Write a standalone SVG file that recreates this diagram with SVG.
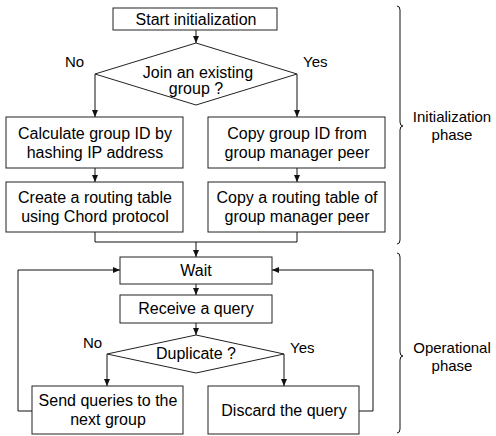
<svg xmlns="http://www.w3.org/2000/svg" width="496" height="436" viewBox="0 0 496 436">
<style>
.box{fill:#fff;stroke:#222;stroke-width:1}
.ln{fill:none;stroke:#111;stroke-width:1}
.t{font-family:"Liberation Sans",Arial,sans-serif;font-size:16px;fill:#000;text-anchor:middle}
.s{font-family:"Liberation Sans",Arial,sans-serif;font-size:15px;fill:#000;text-anchor:middle}
.l{font-family:"Liberation Sans",Arial,sans-serif;font-size:15px;fill:#000}
</style>
<defs>
<marker id="ah" markerUnits="userSpaceOnUse" markerWidth="7" markerHeight="6" refX="7" refY="3" orient="auto">
<path d="M0,0 L7,3 L0,6 z" fill="#111"/>
</marker>
</defs>
<rect width="496" height="436" fill="#fff"/>
<g id="connectors">
<path class="ln" d="M196,30 V43" marker-end="url(#ah)"/>
<path class="ln" d="M95,74 V117" marker-end="url(#ah)"/>
<path class="ln" d="M297,74 V117" marker-end="url(#ah)"/>
<path class="ln" d="M95,168 V182" marker-end="url(#ah)"/>
<path class="ln" d="M297,168 V182" marker-end="url(#ah)"/>
<path class="ln" d="M95,232 V242 H297 V232"/>
<path class="ln" d="M196,242 V257" marker-end="url(#ah)"/>
<path class="ln" d="M196,284 V295" marker-end="url(#ah)"/>
<path class="ln" d="M196,323 V335" marker-end="url(#ah)"/>
<path class="ln" d="M107,354 V386" marker-end="url(#ah)"/>
<path class="ln" d="M284,354 V386" marker-end="url(#ah)"/>
<path class="ln" d="M32,411 H18 V270 H120" marker-end="url(#ah)"/>
<path class="ln" d="M359,411 H373 V270 H272" marker-end="url(#ah)"/>
</g>
<g id="start"><rect class="box" x="113" y="8" width="164" height="22"/><text class="t" x="196" y="25">Start initialization</text></g>
<g id="join"><path class="box" d="M196,43 L297,74 L196,105 L95,74 Z"/><text class="t" x="198" y="78">Join an existing</text><text class="t" x="196" y="94">group ?</text></g>
<g id="no1"><text class="l" x="65" y="67">No</text></g>
<g id="yes1"><text class="l" x="303" y="67">Yes</text></g>
<g id="calc"><rect class="box" x="6" y="117" width="177" height="51"/><text class="t" x="95" y="139">Calculate group ID by</text><text class="t" x="95" y="158">hashing IP address</text></g>
<g id="copyid"><rect class="box" x="208" y="117" width="177" height="51"/><text class="t" x="297" y="139">Copy group ID from</text><text class="t" x="297" y="158">group manager peer</text></g>
<g id="create"><rect class="box" x="6" y="182" width="177" height="50"/><text class="t" x="95" y="203">Create a routing table</text><text class="t" x="95" y="222">using Chord protocol</text></g>
<g id="copytable"><rect class="box" x="208" y="182" width="177" height="50"/><text class="t" x="297" y="203">Copy a routing table of</text><text class="t" x="297" y="222">group manager peer</text></g>
<g id="wait"><rect class="box" x="120" y="257" width="152" height="27"/><text class="t" x="196" y="276">Wait</text></g>
<g id="receive"><rect class="box" x="120" y="295" width="152" height="28"/><text class="t" x="196" y="314">Receive a query</text></g>
<g id="dup"><path class="box" d="M196,335 L284,354 L196,373 L107,354 Z"/><text class="t" x="196" y="359">Duplicate ?</text></g>
<g id="no2"><text class="l" x="83" y="348">No</text></g>
<g id="yes2"><text class="l" x="290" y="353">Yes</text></g>
<g id="send"><rect class="box" x="32" y="386" width="151" height="48"/><text class="t" x="108" y="406">Send queries to the</text><text class="t" x="108" y="425">next group</text></g>
<g id="discard"><rect class="box" x="208" y="386" width="151" height="48"/><text class="t" x="284" y="416">Discard the query</text></g>
<g id="brace-init"><path class="ln" d="M397,6 Q400,6 400,10 V122 Q400,126 403,126 Q400,126 400,130 V240 Q400,244 397,244"/><text class="s" x="452" y="122">Initialization</text><text class="s" x="452" y="140">phase</text></g>
<g id="brace-op"><path class="ln" d="M397,253 Q400,253 400,257 V352 Q400,356 403,356 Q400,356 400,360 V429 Q400,433 397,433"/><text class="s" x="452" y="353">Operational</text><text class="s" x="452" y="371">phase</text></g>
</svg>
